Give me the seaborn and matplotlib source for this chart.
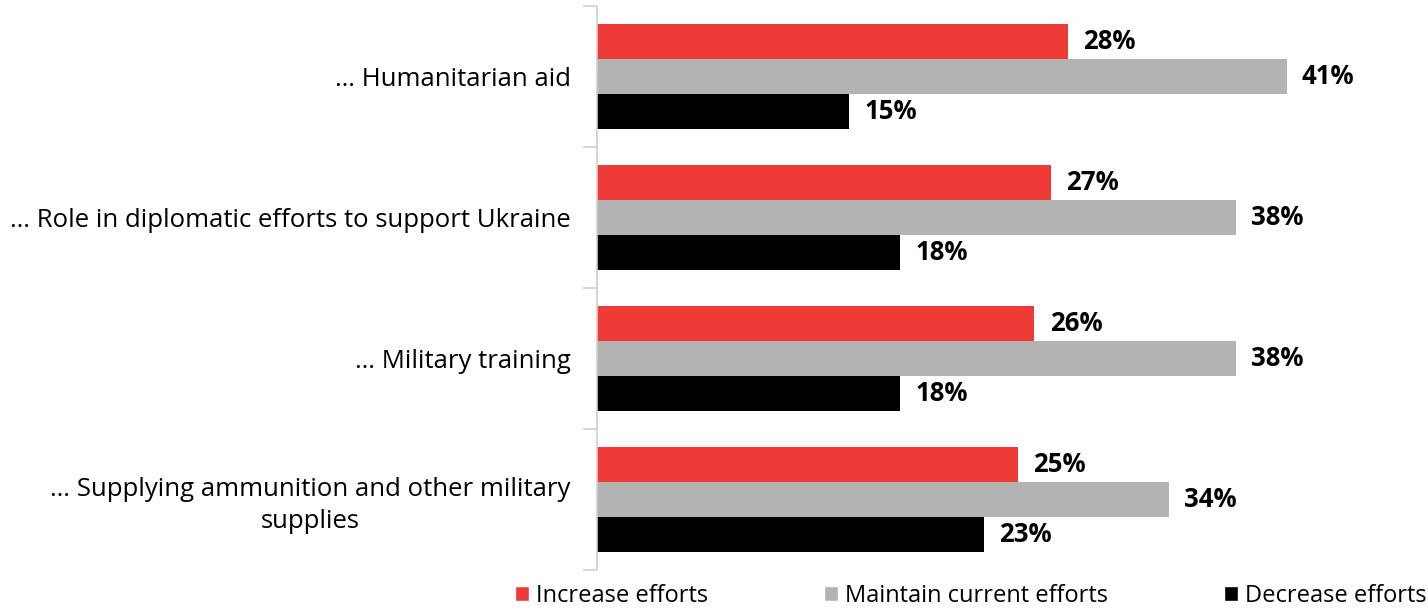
import numpy as np
import pandas as pd
import matplotlib
matplotlib.use("Agg")
import matplotlib.pyplot as plt
import seaborn as sns
from matplotlib.patches import Patch

# data
categories = ["… Humanitarian aid",
              "… Role in diplomatic efforts to support Ukraine",
              "… Military training",
              "… Supplying ammunition and other military\nsupplies"]
series = ["Increase efforts", "Maintain current efforts", "Decrease efforts"]
increase = [28, 27, 26, 25]
maintain = [41, 38, 38, 34]
decrease = [15, 18, 18, 23]
colors = ["#EE3B36", "#B3B3B3", "#000000"]

rows = []
for name, vals in zip(series, [increase, maintain, decrease]):
    for cat, v in zip(categories, vals):
        rows.append([cat, name, v])
df = pd.DataFrame(rows, columns=["category", "series", "value"])

sns.set_style("white")
plt.rcParams["font.family"] = ["Open Sans", "DejaVu Sans"]

fig = plt.figure(figsize=(14.28, 6.12), dpi=100)
ax = fig.add_axes([597 / 1428, 1 - 570 / 612, 1 - 597 / 1428, (570 - 6) / 612])

sns.barplot(data=df, y="category", x="value", hue="series", orient="h",
            palette=colors, width=0.745, saturation=1, legend=False,
            linewidth=0, edgecolor="none", ax=ax)

ax.set_xlim(0, (1428 - 598) / 16.8)
ax.set_ylim(3.5, -0.5)
ax.set_xlabel("")
ax.set_ylabel("")
ax.set_xticks([])

for s in ["top", "right", "bottom"]:
    ax.spines[s].set_visible(False)
ax.spines["left"].set_color("#D0D0D0")
ax.spines["left"].set_linewidth(1.2)

ax.tick_params(axis="y", which="major", left=False, length=0, pad=19,
               labelsize=18.5, labelcolor="black")
ax.set_yticks(np.arange(-0.5, 4.0, 1.0), minor=True)
ax.tick_params(axis="y", which="minor", left=True, length=10,
               color="#D0D0D0", width=1.2)
for lbl in ax.get_yticklabels():
    lbl.set_horizontalalignment("right")
    lbl.set_multialignment("center")
    lbl.set_linespacing(1.35)

for cont in ax.containers:
    ax.bar_label(cont, labels=[f"{v:.0f}%" for v in cont.datavalues],
                 padding=11, fontsize=18.5, fontweight="bold", color="black")

handles = [Patch(facecolor=c, label=s) for c, s in zip(colors, series)]
fig.legend(handles=handles, loc="lower center", ncol=3, frameon=False,
           bbox_to_anchor=(0.68, -0.028), fontsize=17, handlelength=0.6,
           handleheight=0.6, handletextpad=0.3, columnspacing=4.9,
           labelcolor="black")

fig.savefig("out.png", dpi=100)
